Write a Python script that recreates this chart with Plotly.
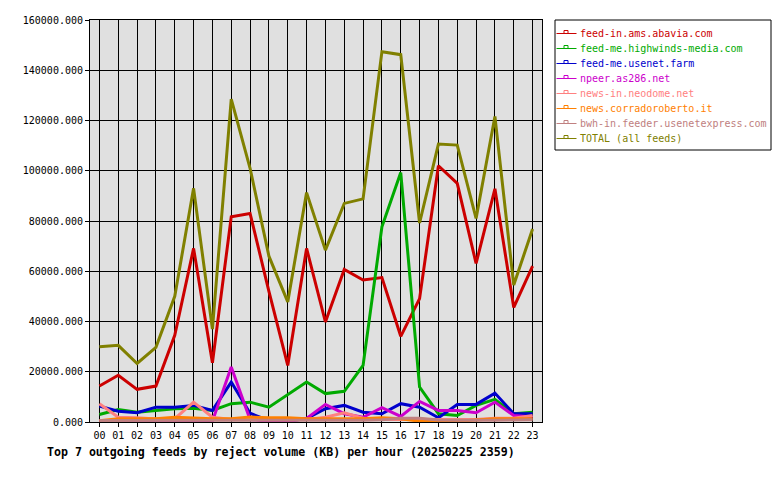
import plotly.graph_objects as go

hours = ["%02d" % h for h in range(24)]

abavia = [14300, 18600, 13000, 14300, 34500, 69100, 23600, 81700, 83000, 52000, 22500, 69100,
          39800, 60700, 56500, 57500, 34100, 49100, 102000, 95000, 63100, 92800, 45600, 62000]
highwinds = [3000, 5000, 3900, 4600, 5300, 5500, 4600, 7300, 7900, 5900, 11000, 15900,
             11300, 12200, 22500, 77700, 99300, 13900, 3300, 2600, 6600, 9000, 3300, 3900]
usenetfarm = [6300, 4300, 3700, 5900, 5900, 6600, 4600, 15900, 3500, 500, 300, 1400,
              5300, 6600, 3900, 3300, 7300, 5900, 1700, 7000, 7000, 11500, 3300, 3300]
npeer = [300, 300, 300, 300, 300, 300, 300, 21900, 1000, 300, 300, 1400,
         7000, 3300, 1900, 5700, 2200, 8200, 4600, 4600, 3700, 7900, 2600, 2000]
neodome = [7300, 1900, 1700, 1200, 1300, 7900, 1900, 1000, 1000, 1000, 1000, 1000,
           1900, 3700, 1500, 1000, 1000, 1000, 1000, 1000, 1000, 1500, 1500, 2600]
corrado = [500, 1300, 1300, 1300, 1900, 1500, 1300, 1300, 2000, 1700, 1700, 1300,
           1300, 1300, 1300, 1700, 1300, 300, 300, 300, 800, 1300, 1300, 1300]
bwh = [600, 600, 600, 500, 500, 600, 700, 600, 600, 500, 500, 600,
       700, 800, 700, 900, 1500, 1500, 800, 700, 600, 700, 800, 900]
total = [30000, 30500, 23300, 29700, 50000, 93000, 37000, 128500, 101000, 66000, 47800, 91300,
         68400, 87000, 88800, 147400, 146200, 79200, 110600, 110200, 81000, 121600, 54500, 76800]

names = ["feed-in.ams.abavia.com", "feed-me.highwinds-media.com", "feed-me.usenet.farm",
         "npeer.as286.net", "news-in.neodome.net", "news.corradoroberto.it",
         "bwh-in.feeder.usenetexpress.com", "TOTAL (all feeds)"]
series = [abavia, highwinds, usenetfarm, npeer, neodome, corrado, bwh, total]
colors = ["#CC0000", "#00AA00", "#0000CC", "#CC00CC", "#FF8080", "#FF8000", "#C08080", "#808000"]

title = "Top 7 outgoing feeds by reject volume (KB) per hour (20250225 2359)"
yticks = [0, 20000, 40000, 60000, 80000, 100000, 120000, 140000, 160000]

W, H = 780, 480
L, R, T, B = 90, 238, 20, 58
PW, PH = W - L - R, H - T - B

def px(x):
    return (x - L) / PW

def py(y):
    return (H - B - y) / PH

MONO = "DejaVu Sans Mono"

fig = go.Figure()
for name, vals, col in zip(names, series, colors):
    fig.add_trace(go.Scatter(x=hours, y=vals, mode="lines", name=name,
                             line=dict(color=col, width=3), showlegend=False))

shapes = []
annotations = []
# legend box
shapes.append(dict(type="rect", xref="paper", yref="paper", x0=px(555), x1=px(771),
                   y0=py(150), y1=py(20), line=dict(color="black", width=1),
                   fillcolor="white", layer="above"))
for i, (name, col) in enumerate(zip(names, colors)):
    Y = 33.5 + 15 * i
    shapes.append(dict(type="line", xref="paper", yref="paper", x0=px(556.5), x1=px(576.5),
                       y0=py(Y), y1=py(Y), line=dict(color=col, width=1)))
    shapes.append(dict(type="rect", xref="paper", yref="paper", x0=px(564), x1=px(568),
                       y0=py(Y), y1=py(Y - 3), line=dict(color=col, width=1),
                       fillcolor="white"))
    annotations.append(dict(text=name, xref="paper", yref="paper", x=px(578), y=py(Y),
                            xanchor="left", yanchor="middle", showarrow=False,
                            font=dict(family=MONO, size=10, color=col)))

annotations.append(dict(text="<b>%s</b>" % title, xref="paper", yref="paper",
                        x=px(45), y=py(452), xanchor="left", yanchor="middle",
                        showarrow=False, font=dict(family=MONO, size=11.6, color="black")))

fig.update_layout(
    width=W, height=H,
    margin=dict(l=L, r=R, t=T, b=B, pad=0),
    paper_bgcolor="white", plot_bgcolor="#E0E0E0",
    font=dict(family=MONO, size=10, color="black"),
    showlegend=False,
    shapes=shapes, annotations=annotations,
    xaxis=dict(type="category", range=[-0.5, 23.5], showgrid=True, gridcolor="black",
               gridwidth=1, ticks="outside", ticklen=4, tickcolor="black",
               showline=True, linecolor="black", linewidth=1, mirror=True,
               tickfont=dict(family=MONO, size=10, color="black"), fixedrange=True),
    yaxis=dict(range=[0, 160000], tickvals=yticks, tickformat=".3f", showgrid=True,
               gridcolor="black", gridwidth=1, zeroline=False, ticks="outside", ticklen=4,
               tickcolor="black", showline=True, linecolor="black", linewidth=1,
               mirror=True, tickfont=dict(family=MONO, size=10, color="black"),
               fixedrange=True),
)

fig.write_html("out.html")
